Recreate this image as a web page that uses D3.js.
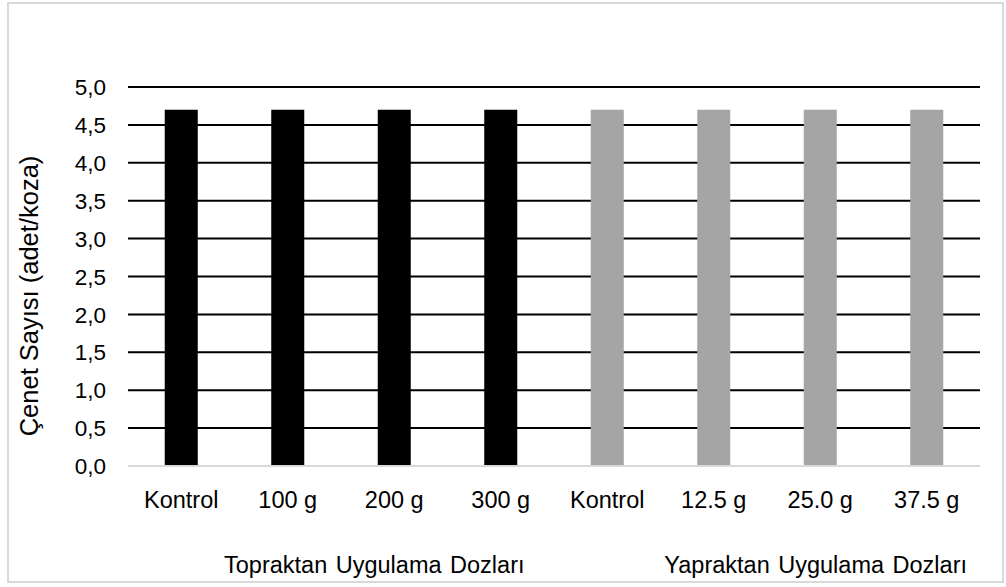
<!DOCTYPE html>
<html>
<head>
<meta charset="utf-8">
<script src="https://cdn.jsdelivr.net/npm/d3@7"></script>
<style>
  html, body { margin: 0; padding: 0; background: #fff; }
  svg text { font-family: "Liberation Sans", Arial, sans-serif; fill: #000; }
</style>
</head>
<body>
<svg id="chart" width="1006" height="587"></svg>
<script>
// Doses for soil (Topraktan) and foliar (Yapraktan) applications
const categories = ["Kontrol", "100 g", "200 g", "300 g", "Kontrol", "12.5 g", "25.0 g", "37.5 g"];
const groups = ["Topraktan", "Topraktan", "Topraktan", "Topraktan", "Yapraktan", "Yapraktan", "Yapraktan", "Yapraktan"];
const values = [4.7, 4.7, 4.7, 4.7, 4.7, 4.7, 4.7, 4.7];
const yTicks = [0, 0.5, 1, 1.5, 2, 2.5, 3, 3.5, 4, 4.5, 5];
const groupTitles = ["Topraktan Uygulama Dozları", "Yapraktan Uygulama Dozları"];
const yTitle = "Çenet Sayısı (adet/koza)";

const groupColor = { Topraktan: "#000000", Yapraktan: "#a5a5a5" };

const svg = d3.select("#chart");
const plot = { left: 128, right: 980, top: 87, bottom: 466 };

// outer chart frame
svg.append("rect")
  .attr("x", 8).attr("y", 3)
  .attr("width", 995).attr("height", 579)
  .attr("fill", "#fff")
  .attr("stroke", "#d9d9d9")
  .attr("stroke-width", 2);

const idx = d3.range(categories.length);
const x = d3.scaleBand()
  .domain(idx)
  .range([plot.left, plot.right])
  .paddingInner(0.69)
  .paddingOuter(0.345);

const y = d3.scaleLinear().domain([0, 5]).range([plot.bottom, plot.top]);

// horizontal gridlines
svg.append("g")
  .selectAll("line")
  .data(yTicks.filter(t => t > 0))
  .join("line")
  .attr("x1", plot.left).attr("x2", plot.right)
  .attr("y1", d => y(d)).attr("y2", d => y(d))
  .attr("stroke", "#000")
  .attr("stroke-width", 2);

// bars
svg.append("g")
  .selectAll("rect")
  .data(idx)
  .join("rect")
  .attr("x", i => x(i))
  .attr("width", x.bandwidth())
  .attr("y", i => y(values[i]))
  .attr("height", i => y(0) - y(values[i]))
  .attr("fill", i => groupColor[groups[i]]);

// category baseline
svg.append("line")
  .attr("x1", plot.left).attr("x2", plot.right)
  .attr("y1", y(0)).attr("y2", y(0))
  .attr("stroke", "#d9d9d9")
  .attr("stroke-width", 2);

// y-axis tick labels
const fmt = d => d3.format(".1f")(d).replace(".", ",");
svg.append("g")
  .selectAll("text")
  .data(yTicks)
  .join("text")
  .attr("x", 106)
  .attr("y", d => y(d))
  .attr("dy", "0.36em")
  .attr("text-anchor", "end")
  .style("font-size", "22.5px")
  .text(fmt);

// category labels
svg.append("g")
  .selectAll("text")
  .data(idx)
  .join("text")
  .attr("x", i => x(i) + x.bandwidth() / 2)
  .attr("y", 508)
  .attr("text-anchor", "middle")
  .style("font-size", "23.5px")
  .text(i => categories[i]);

// group titles under each group of four
svg.append("g")
  .selectAll("text")
  .data(groupTitles)
  .join("text")
  .attr("x", (g, k) => k === 0 ? 224 : 967)
  .attr("y", 573)
  .attr("text-anchor", (g, k) => k === 0 ? "start" : "end")
  .style("font-size", "23.5px")
  .style("word-spacing", "2px")
  .text(g => g);

// y-axis title
svg.append("text")
  .attr("transform", "translate(38,296) rotate(-90)")
  .attr("text-anchor", "middle")
  .style("font-size", "25.5px")
  .text(yTitle);
</script>
</body>
</html>
